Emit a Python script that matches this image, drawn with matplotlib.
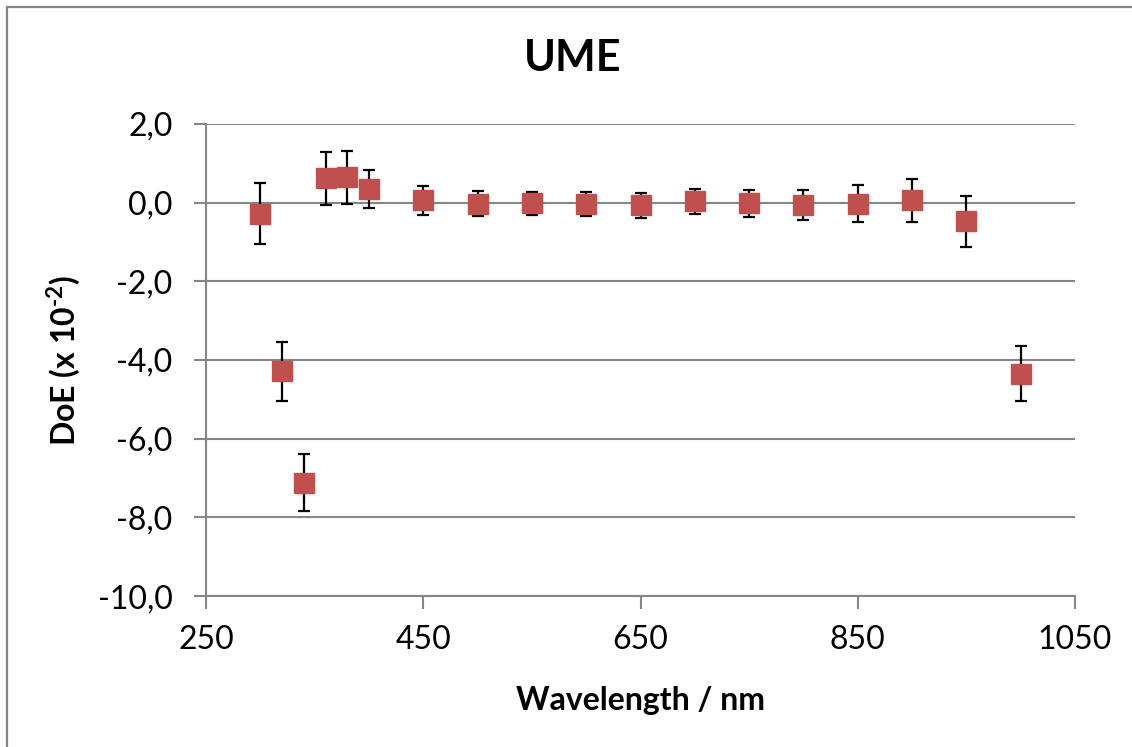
import numpy as np
import matplotlib.pyplot as plt
from matplotlib.patches import Rectangle
from matplotlib.ticker import FuncFormatter

# 数据：波长、DoE 值及其不确定度
wavelength = [300, 320, 340, 360, 380, 400, 450, 500, 550, 600, 650,
              700, 750, 800, 850, 900, 950, 1000]
doe = [-0.28, -4.29, -7.12, 0.62, 0.64, 0.34, 0.06, -0.03, -0.02, -0.04,
       -0.07, 0.03, -0.02, -0.06, -0.03, 0.06, -0.47, -4.35]
doe_err = [0.78, 0.75, 0.73, 0.67, 0.67, 0.48, 0.37, 0.32, 0.29, 0.31,
           0.32, 0.31, 0.35, 0.39, 0.47, 0.55, 0.65, 0.70]

x_ticks = [250, 450, 650, 850, 1050]
y_ticks = [-10, -8, -6, -4, -2, 0, 2]

plt.rcParams['font.family'] = ['Lato', 'DejaVu Sans']
plt.rcParams['mathtext.fontset'] = 'custom'
plt.rcParams['mathtext.rm'] = 'Lato'
plt.rcParams['mathtext.bf'] = 'Lato:bold'
grey = '#868686'

fig = plt.figure(figsize=(11.32, 7.47), dpi=100)
ax = fig.add_axes([0.182, 0.2021, 0.7677, 0.6319])

# 外框
fig.patches.append(Rectangle((7 / 1132, -0.1), 1.2, 1 - 7 / 747 + 0.1,
                             transform=fig.transFigure, fill=False,
                             edgecolor=grey, linewidth=1.6, zorder=0))

ax.errorbar(wavelength, doe, yerr=doe_err, fmt='none', ecolor='black',
            elinewidth=1.6, capsize=4.5, capthick=1.6, zorder=3)
ax.plot(wavelength, doe, linestyle='none', marker='s', markersize=14.8,
        color='#C0504D', markeredgecolor='#C0504D', zorder=4)

ax.set_xlim(250, 1050)
ax.set_ylim(-10, 2)
ax.set_xticks(x_ticks)
ax.set_yticks(y_ticks)
ax.yaxis.set_major_formatter(FuncFormatter(lambda v, p: f'{v:.1f}'.replace('.', ',')))
ax.grid(axis='y', color=grey, linewidth=1.5)
ax.set_axisbelow(True)

for side in ['top', 'right']:
    ax.spines[side].set_visible(False)
for side in ['left', 'bottom']:
    ax.spines[side].set_color(grey)
    ax.spines[side].set_linewidth(1.5)
ax.tick_params(axis='both', direction='out', length=9, width=1.5, color=grey,
               labelsize=23)
ax.tick_params(axis='y', pad=15)
ax.tick_params(axis='x', pad=12)

# 标题居中于整张图
fig.text(0.506, 0.923, 'UME', fontsize=31, fontweight='bold',
         ha='center', va='center')
ax.set_xlabel('Wavelength / nm', fontsize=23, fontweight='bold', labelpad=22)
# 上标用连字符 U+2010，而不是数学减号
ax.set_ylabel('DoE (x 10$^{\\mathbf{\u20102}}$)', fontsize=23,
              fontweight='bold', labelpad=11)

plt.savefig('out.png', dpi=100)
